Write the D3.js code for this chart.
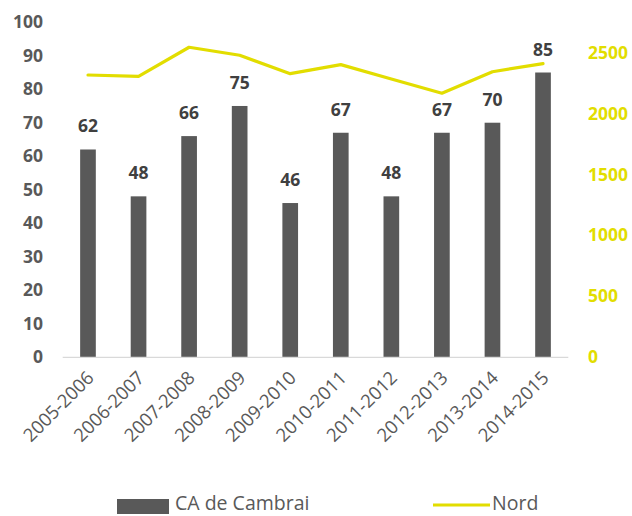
<!DOCTYPE html>
<html><head><meta charset="utf-8">
<script src="https://cdn.jsdelivr.net/npm/d3@7"></script>
<style>body{margin:0;background:#fff}svg{display:block}text{font-family:"Open Sans",sans-serif}</style>
</head><body><svg id="c" width="632" height="516"></svg>
<script>
const categories = ["2005-2006","2006-2007","2007-2008","2008-2009","2009-2010","2010-2011","2011-2012","2012-2013","2013-2014","2014-2015"];
const cambrai = [62,48,66,75,46,67,48,67,70,85];
const nord = [2317,2306,2545,2479,2328,2402,2284,2167,2344,2410];
const leftTicks = [0,10,20,30,40,50,60,70,80,90,100];
const rightTicks = [0,500,1000,1500,2000,2500];

const svg = d3.select("#c");
const x = d3.scaleBand().domain(categories).range([62.7,568.3]).paddingInner(0.69).paddingOuter(0.345);
const yL = d3.scaleLinear().domain([0,100]).range([357,22.3]);
const yR = d3.scaleLinear().domain([0,2750]).range([357,22.3]);
const gray = "#595959", yellow = "#E2DD00";

// left axis
const gl = svg.append("g").attr("transform","translate(43,0)")
  .call(d3.axisLeft(yL).tickValues(leftTicks).tickSize(0).tickPadding(0));
gl.select(".domain").remove();
gl.selectAll("text").attr("font-size",17.5).attr("font-weight","bold").attr("fill",gray).attr("font-family","Open Sans");

// right axis
const gr = svg.append("g").attr("transform","translate(588,0)")
  .call(d3.axisRight(yR).tickValues(rightTicks).tickFormat(d3.format("d")).tickSize(0).tickPadding(0));
gr.select(".domain").remove();
gr.selectAll("text").attr("font-size",17.5).attr("font-weight","bold").attr("fill",yellow).attr("font-family","Open Sans");

// bars
svg.append("g").selectAll("rect").data(categories).join("rect")
  .attr("x",d=>x(d)).attr("width",x.bandwidth())
  .attr("y",(d,i)=>yL(cambrai[i])).attr("height",(d,i)=>yL(0)-yL(cambrai[i]))
  .attr("fill",gray);

// baseline
svg.append("line").attr("x1",62.7).attr("x2",568.3).attr("y1",357.3).attr("y2",357.3)
  .attr("stroke","#d9d9d9").attr("stroke-width",1.3);

// bottom axis labels
const gx = svg.append("g").attr("transform","translate(0,357)")
  .call(d3.axisBottom(x).tickSize(0).tickPadding(0));
gx.select(".domain").remove();
gx.selectAll("text").attr("font-size",18.5).attr("fill",gray).attr("font-family","Open Sans")
  .attr("text-anchor","end").attr("dy",0)
  .attr("transform","translate(7,22) rotate(-45)");

// line
const line = d3.line().x((d,i)=>x(categories[i])+x.bandwidth()/2).y(d=>yR(d));
svg.append("path").datum(nord).attr("d",line).attr("fill","none")
  .attr("stroke",yellow).attr("stroke-width",3.2).attr("stroke-linejoin","round").attr("stroke-linecap","round");

// data labels
svg.append("g").selectAll("text").data(categories).join("text")
  .attr("x",d=>x(d)+x.bandwidth()/2).attr("y",(d,i)=>yL(cambrai[i])-17)
  .attr("text-anchor","middle").attr("font-size",17.5).attr("font-weight","bold").attr("fill","#404040")
  .text((d,i)=>cambrai[i]);

// legend
const lg = svg.append("g");
lg.append("rect").attr("x",117).attr("y",499).attr("width",52).attr("height",15).attr("fill",gray);
lg.append("text").attr("x",175).attr("y",510).attr("font-size",19.5).attr("fill",gray).text("CA de Cambrai");
lg.append("line").attr("x1",433).attr("x2",490).attr("y1",505).attr("y2",505).attr("stroke",yellow).attr("stroke-width",3.2);
lg.append("text").attr("x",492).attr("y",510).attr("font-size",19.5).attr("fill",gray).text("Nord");
</script></body></html>
